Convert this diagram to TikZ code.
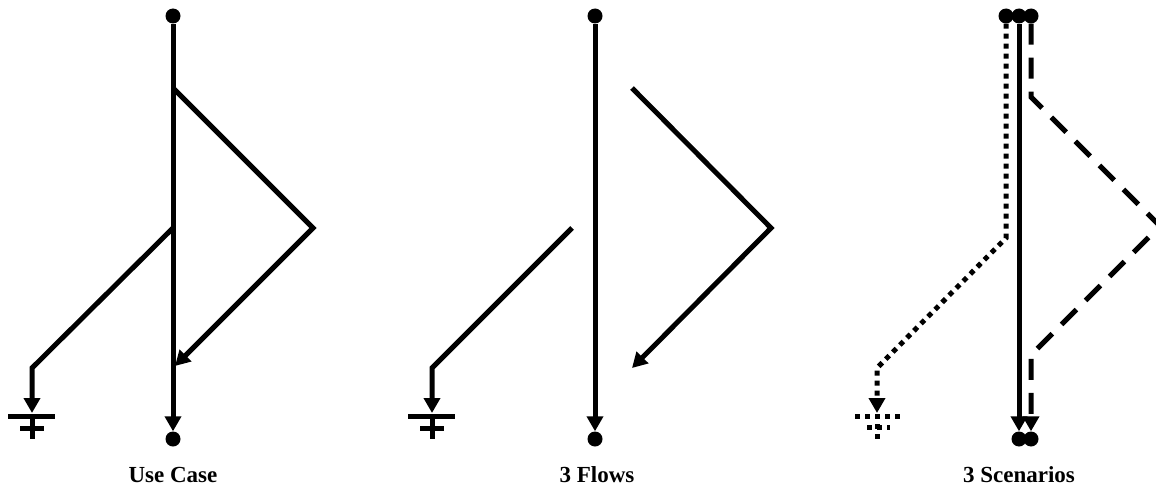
\documentclass[tikz,border=0pt]{standalone}
\usepackage{fontspec}
\setmainfont{Liberation Serif}
\usetikzlibrary{arrows.meta}
\tikzset{
  ln/.style={line width=5pt},
  arr/.style={ln,-{Triangle[length=15pt,width=16pt]}},
  dotline/.style={dash pattern=on 5pt off 5pt},
  dashline/.style={dash pattern=on 21pt off 13pt},
  dot/.style={circle,fill=black,inner sep=0pt,minimum size=15pt},
  lbl/.style={anchor=base,font=\fontsize{23}{27}\selectfont\bfseries}
}
\begin{document}
\begin{tikzpicture}[x=1pt,y=-1pt]
\useasboundingbox (0,0) rectangle (1156,487);
% ---------- Panel 1: Use Case ----------
\node[dot] (t1) at (173,16) {};
\node[dot] (b1) at (173,439) {};
\draw[arr] (t1) -- (b1);
\coordinate (a1) at (173,88);
\coordinate (p1) at (313,228);
\coordinate (e1) at (175,366);
\draw[arr] (a1) -- (p1) -- (e1);
\coordinate (c1) at (173,228);
\coordinate (k1) at (32,368);
\coordinate (g1) at (32,413);
\draw[arr] (c1) -- (k1) -- (g1);
\coordinate (gl1) at (8,416);  \coordinate (gr1) at (55,416);
\coordinate (sl1) at (20,428); \coordinate (sr1) at (44,428);
\coordinate (gt1) at (32,414); \coordinate (gb1) at (32,439);
\draw[ln] (gl1) -- (gr1);
\draw[ln] (sl1) -- (sr1);
\draw[ln] (gt1) -- (gb1);
\node[lbl] (l1) at (173,482) {Use Case};
% ---------- Panel 2: 3 Flows ----------
\node[dot] (t2) at (595,16) {};
\node[dot] (b2) at (595,439) {};
\draw[arr] (t2) -- (b2);
\coordinate (a2) at (632,88);
\coordinate (p2) at (771,228);
\coordinate (e2) at (632,368);
\draw[arr] (a2) -- (p2) -- (e2);
\coordinate (c2) at (572,228);
\coordinate (k2) at (432,368);
\coordinate (g2) at (432,413);
\draw[arr] (c2) -- (k2) -- (g2);
\coordinate (gl2) at (408,416);  \coordinate (gr2) at (455,416);
\coordinate (sl2) at (420,428); \coordinate (sr2) at (444,428);
\coordinate (gt2) at (432,414); \coordinate (gb2) at (432,439);
\draw[ln] (gl2) -- (gr2);
\draw[ln] (sl2) -- (sr2);
\draw[ln] (gt2) -- (gb2);
\node[lbl] (l2) at (597,482) {3 Flows};
% ---------- Panel 3: 3 Scenarios ----------
\node[dot] (t3a) at (1006,16) {};
\node[dot] (t3b) at (1019,16) {};
\node[dot] (t3c) at (1031,16) {};
\node[dot] (b3b) at (1019,439) {};
\node[dot] (b3c) at (1031,439) {};
% solid
\draw[arr] (t3b) -- (b3b);
% dotted
\coordinate (d1) at (1006,238);
\coordinate (d2) at (877,368);
\coordinate (d3) at (877,413);
\draw[arr,dotline] (t3a) -- (d1) -- (d2) -- (d3);
\coordinate (dgl) at (855,416);  \coordinate (dgr) at (900,416);
\coordinate (dsl) at (867,427); \coordinate (dsr) at (890,427);
\coordinate (dgt) at (877,414); \coordinate (dgb) at (877,439);
\draw[ln,dotline] (dgl) -- (dgr);
\draw[ln,dotline] (dsl) -- (dsr);
\draw[ln,dotline] (dgt) -- (dgb);
% dashed
\coordinate (h1) at (1031,97);
\coordinate (h2) at (1160,226);
\coordinate (h3) at (1031,355);
\draw[arr,dashline] (t3c) -- (h1) -- (h2) -- (h3) -- (b3c);
\node[lbl] (l3) at (1019,482) {3 Scenarios};
\end{tikzpicture}
\end{document}
